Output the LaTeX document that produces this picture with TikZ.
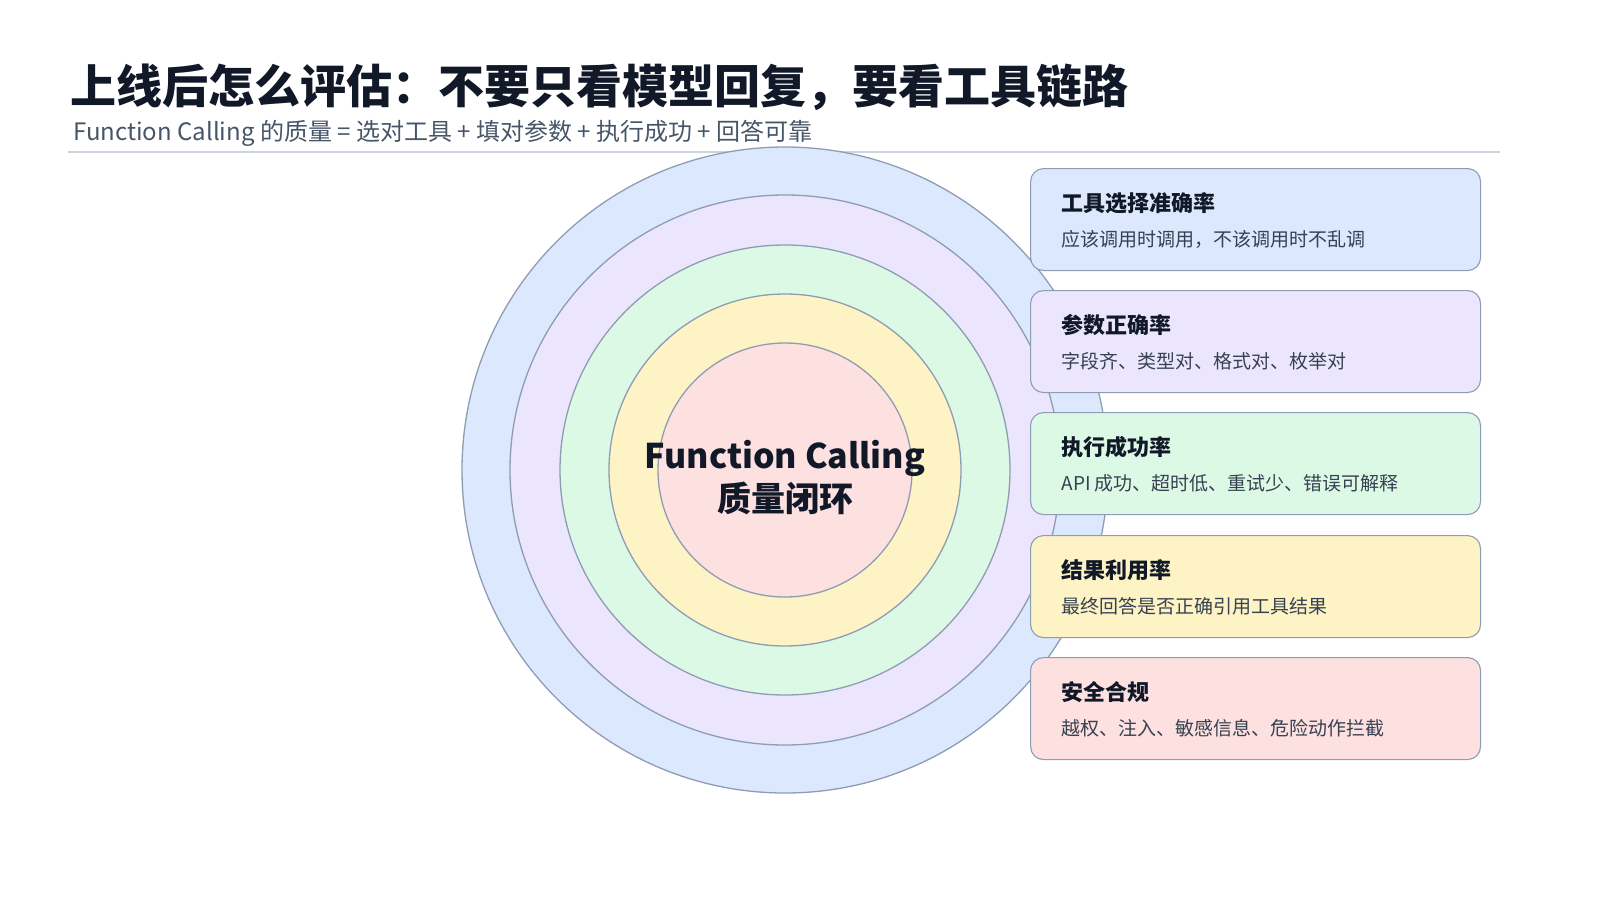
\documentclass[tikz,border=0pt]{standalone}
\usepackage{fontspec}
\setmainfont{Noto Sans CJK SC}
\newfontfamily\cjkb{Noto Sans CJK SC Bold}
\begin{document}
\definecolor{cb}{HTML}{DBE8FD}\definecolor{cp}{HTML}{EBE6FD}\definecolor{cg}{HTML}{DCF9E6}
\definecolor{cy}{HTML}{FDF3C5}\definecolor{cr}{HTML}{FDE0E0}\definecolor{st}{HTML}{8F9CB3}
\definecolor{ink}{HTML}{111827}\definecolor{sub}{HTML}{475569}\definecolor{rule}{HTML}{CBD5E1}
\definecolor{desc}{HTML}{374151}
\begin{tikzpicture}[x=1pt,y=-1pt,
 ring/.style={draw=st,line width=1.3pt},
 card/.style={draw=st,line width=1.1pt,rounded corners=13pt,minimum width=450pt,minimum height=102pt,anchor=north west},
 ct/.style={anchor=base west,font=\bfseries\fontsize{22}{26}\selectfont,text=ink},
 cd/.style={anchor=base west,font=\fontsize{19}{22}\selectfont,text=desc}]
\useasboundingbox (0,0) rectangle (1600,900);
\node[anchor=base west,inner sep=0,font=\bfseries\fontsize{46}{52}\selectfont,text=ink] (title) at (70,103) {上线后怎么评估：不要只看模型回复，要看工具链路};
\node[anchor=base west,inner sep=0,font=\fontsize{24}{28}\selectfont,text=sub] (subt) at (73,140) {Function Calling 的质量 = 选对工具 + 填对参数 + 执行成功 + 回答可靠};
\draw[rule,line width=1.5pt] (68,152) -- (1500,152);
\coordinate (c) at (785,470);
\fill[cb,ring] (c) circle (323);
\fill[cp,ring] (c) circle (275);
\fill[cg,ring] (c) circle (225);
\fill[cy,ring] (c) circle (176);
\fill[cr,ring] (c) circle (127);
\node[align=center,font=\bfseries\fontsize{34}{43}\selectfont,text=ink] (center) at (785,478) {Function Calling\\质量闭环};
\foreach \y/\f/\t/\d [count=\i] in {168/cb/工具选择准确率/{应该调用时调用，不该调用时不乱调},
 290/cp/参数正确率/{字段齐、类型对、格式对、枚举对},
 412/cg/执行成功率/{API 成功、超时低、重试少、错误可解释},
 535/cy/结果利用率/{最终回答是否正确引用工具结果},
 657/cr/安全合规/{越权、注入、敏感信息、危险动作拦截}}{
 \node[card,fill=\f] (card\i) at (1030,\y) {};
 \node[ct] (ct\i) at (1058,\y+43) {\t};
 \node[cd] (cd\i) at (1058,\y+78) {\d};
}
\end{tikzpicture}
\end{document}
